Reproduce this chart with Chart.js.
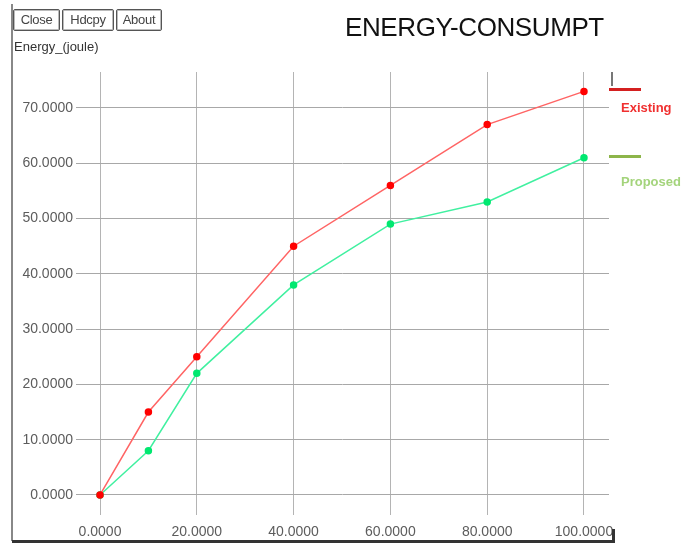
<!DOCTYPE html>
<html>
<head>
<meta charset="utf-8">
<script src="https://cdn.jsdelivr.net/npm/chart.js@4/dist/chart.umd.min.js"></script>
<style>
	html, body { margin: 0; padding: 0; background: #fff; }
	#wrap { position: relative; width: 683px; height: 546px; overflow: hidden; font-family: "Liberation Sans", Arial, sans-serif; }
	#myChart { position: absolute; left: 0; top: 0; }
	.btn { position: absolute; top: 9px; height: 20px; border: 1px solid #555; border-radius: 2px; box-shadow: inset 0 0 0 1px #bbb; font-size: 13px; line-height: 20px; color: #444; text-align: center; letter-spacing: -0.3px; }
	#ylabel { position: absolute; left: 14px; top: 39px; font-size: 13px; color: #333; }
	#title { position: absolute; left: 345px; top: 12px; font-size: 26px; letter-spacing: -0.4px; color: #111; white-space: nowrap; }
	.frameL { position: absolute; left: 11px; top: 4px; width: 2px; height: 537px; background: #888; }
	.frameB { position: absolute; left: 12px; top: 540px; width: 603px; height: 3px; background: #333; }
	.frameR { position: absolute; left: 612px; top: 529px; width: 3px; height: 14px; background: #333; }
	.legline { position: absolute; left: 609px; width: 32px; height: 3px; }
	.legtxt { position: absolute; left: 621px; font-size: 13px; font-weight: bold; white-space: nowrap; }
</style>
</head>
<body>
<div id="wrap">
	<canvas id="myChart" width="683" height="546"></canvas>
	<div class="frameL"></div>
	<div class="frameB"></div>
	<div class="frameR"></div>
	<div class="btn" style="left:13px;width:45px;">Close</div>
	<div class="btn" style="left:62px;width:50px;">Hdcpy</div>
	<div class="btn" style="left:116px;width:44px;">About</div>
	<div id="ylabel">Energy_(joule)</div>
	<div id="title">ENERGY-CONSUMPT</div>
	<div style="position:absolute;left:611px;top:72px;width:2px;height:14px;background:#777;"></div>
	<div class="legline" style="top:88px;background:#d42020;"></div>
	<div class="legtxt" style="top:100px;color:#f03030;">Existing</div>
	<div class="legline" style="top:155px;background:#8db54a;"></div>
	<div class="legtxt" style="top:174px;color:#a4d47c;">Proposed</div>
</div>
<script>
// simulation time / nodes on the x axis
var xValues = [0, 10, 20, 40, 60, 80, 100];
var existing = [0, 15, 25, 45, 56, 67, 73];
var proposed = [0, 8, 22, 38, 49, 53, 61];

var xTicks = [0, 20, 40, 60, 80, 100];
var yTicks = [0, 10, 20, 30, 40, 50, 60, 70];

function toPoints(ys) {
	return xValues.map((x, i) => ({ x: x, y: ys[i] }));
}

var ctx = document.getElementById('myChart').getContext('2d');

var chart = new Chart(ctx, {
	type: 'line',
	data: {
		datasets: [{
			label: 'Existing',
			data: toPoints(existing),
			borderColor: '#ff6464',
			borderWidth: 1.5,
			pointBackgroundColor: '#ff0000',
			pointBorderColor: '#ff0000',
			pointRadius: 3,
			tension: 0,
		}, {
			label: 'Proposed',
			data: toPoints(proposed),
			borderColor: '#40f0a0',
			borderWidth: 1.5,
			pointBackgroundColor: '#00e870',
			pointBorderColor: '#00e870',
			pointRadius: 3,
			tension: 0,
		}]
	},
	options: {
		responsive: false,
		animation: false,
		layout: { padding: { left: 0, top: 72, right: 74, bottom: 0 } },
		plugins: {
			legend: { display: false },
			title: { display: false },
			tooltip: { enabled: false }
		},
		scales: {
			x: {
				type: 'linear',
				min: -4.96,
				max: 105.17,
				afterBuildTicks: (scale) => { scale.ticks = xTicks.map(v => ({ value: v })); },
				afterFit: (scale) => { scale.height = 31; },
				border: { display: false },
				grid: { color: '#b4b4b4', drawTicks: false },
				ticks: {
					padding: 9,
					color: '#5c5c5c',
					font: { family: 'Liberation Sans', size: 14 },
					maxRotation: 0,
					callback: (v) => v.toFixed(4)
				}
			},
			y: {
				min: -3.62,
				max: 76.51,
				afterBuildTicks: (scale) => { scale.ticks = yTicks.map(v => ({ value: v })); },
				afterFit: (scale) => { scale.width = 76; },
				border: { display: false },
				grid: { color: '#a8a8a8', drawTicks: false },
				ticks: {
					padding: 3,
					color: '#5c5c5c',
					font: { family: 'Liberation Sans', size: 14 },
					callback: (v) => v.toFixed(4)
				}
			}
		}
	}
});
</script>
</body>
</html>
